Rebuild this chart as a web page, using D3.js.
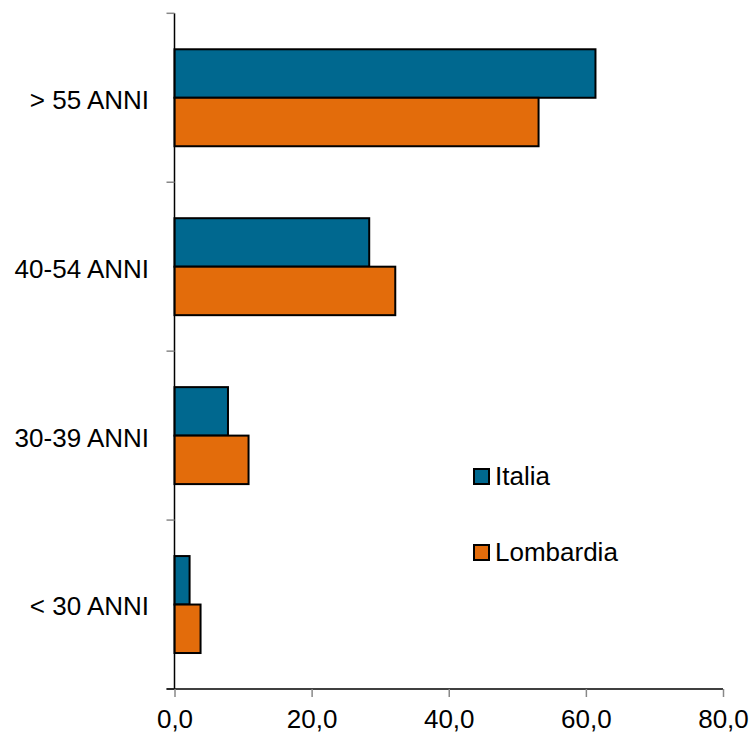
<!DOCTYPE html>
<html>
<head>
<meta charset="utf-8">
<script src="https://cdn.jsdelivr.net/npm/d3@7"></script>
<style>
  html, body { margin: 0; padding: 0; background: #fff; }
  svg { display: block; }
  text { font-family: "Liberation Sans", Arial, sans-serif; fill: #000; }
</style>
</head>
<body>
<svg id="chart" width="749" height="736"></svg>
<script>
const categories = ["> 55 ANNI", "40-54 ANNI", "30-39 ANNI", "< 30 ANNI"];
const seriesNames = ["Italia", "Lombardia"];
const italia = [61.4, 28.4, 7.8, 2.2];
const lombardia = [53.1, 32.2, 10.8, 3.8];
const xTicks = [0, 20, 40, 60, 80];
const colors = ["#00688F", "#E36C0B"];

const svg = d3.select("#chart");
const x = d3.scaleLinear().domain([0, 80]).range([174.5, 723]);
const y = d3.scaleBand().domain(categories).range([13.3, 689])
  .paddingInner(0.426).paddingOuter(0.213);
const sub = d3.scaleBand().domain(seriesNames).range([0, y.bandwidth()]);

const locale = d3.formatLocale({decimal: ",", thousands: ".", grouping: [3], currency: ["", "€"]});
const fmt = locale.format(".1f");

const series = [italia, lombardia];

// bars
series.forEach((vals, si) => {
  svg.append("g").selectAll("rect").data(categories).join("rect")
    .attr("x", x(0))
    .attr("y", (d) => y(d) + sub(seriesNames[si]))
    .attr("width", (d, i) => x(vals[i]) - x(0))
    .attr("height", sub.bandwidth())
    .attr("fill", colors[si])
    .attr("stroke", "#000")
    .attr("stroke-width", 2);
});

// y axis
const step = y.step();
const bounds = categories.map(c => y(c) - y.paddingInner() * step / 2).concat([689]);
const yg = svg.append("g");
yg.append("line").attr("x1", x(0)).attr("x2", x(0)).attr("y1", 13.3).attr("y2", 689)
  .attr("stroke", "#000").attr("stroke-width", 1.5);
yg.selectAll("line.tick").data(bounds).join("line").attr("class", "tick")
  .attr("x1", x(0) - 8).attr("x2", x(0)).attr("y1", d => d).attr("y2", d => d)
  .attr("stroke", "#888").attr("stroke-width", 1.5);
yg.selectAll("text").data(categories).join("text")
  .attr("x", 149).attr("y", d => y(d) + y.bandwidth() / 2)
  .attr("dy", "0.42em")
  .attr("text-anchor", "end")
  .style("font-size", "26px")
  .text(d => d);

// x axis
const xg = svg.append("g").attr("transform", "translate(0,689)")
  .call(d3.axisBottom(x).tickValues(xTicks).tickSize(8).tickSizeOuter(0).tickFormat(fmt));
xg.select(".domain").attr("stroke", "#000").attr("stroke-width", 1.5).attr("d", `M${x(0) - 8},0H${x(80)}`);
xg.selectAll(".tick line").attr("stroke", "#888").attr("stroke-width", 1.5);
xg.selectAll(".tick text").attr("y", 21).attr("dy", "0.71em")
  .style("font-size", "26px").style("font-family", "'Liberation Sans', Arial, sans-serif").attr("fill", "#000");

// legend
const legendY = [469, 545];
const lg = svg.append("g");
seriesNames.forEach((name, i) => {
  lg.append("rect").attr("x", 474).attr("y", legendY[i]).attr("width", 15).attr("height", 15)
    .attr("fill", colors[i]).attr("stroke", "#000").attr("stroke-width", 2);
  lg.append("text").attr("x", 495).attr("y", legendY[i] + 16)
    .style("font-size", "26px").text(name);
});
</script>
</body>
</html>
